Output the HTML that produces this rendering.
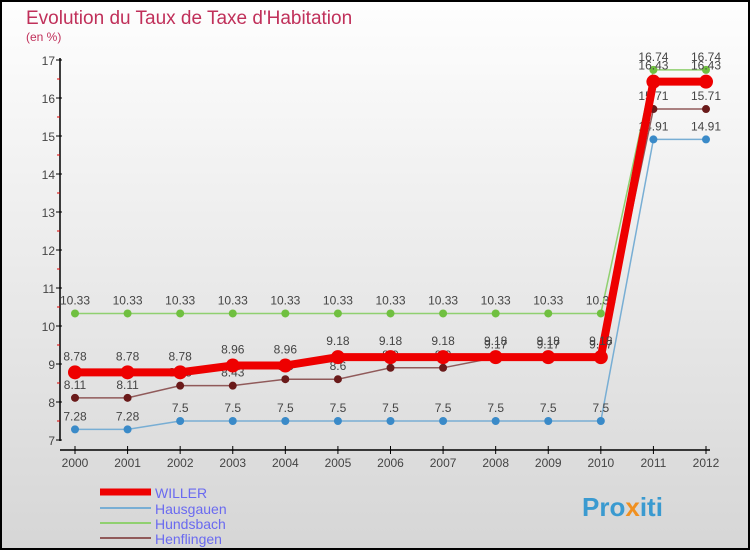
<!DOCTYPE html>
<html><head><meta charset="utf-8"><style>
body{margin:0}
#c{width:750px;height:550px;position:relative;font-family:"Liberation Sans",sans-serif}
</style></head><body>
<div id="c">
<svg id="s" width="750" height="550" xmlns="http://www.w3.org/2000/svg">
<defs><linearGradient id="bg" x1="0" y1="0" x2="0" y2="1"><stop offset="0" stop-color="#fefefe"/><stop offset="1" stop-color="#d6d6d6"/></linearGradient></defs>
<rect x="1" y="1" width="748" height="548" fill="url(#bg)" stroke="#000" stroke-width="2"/>
<text x="26" y="24" font-size="19" fill="#c0305a">Evolution du Taux de Taxe d'Habitation</text>
<text x="26" y="41" font-size="12" fill="#c0305a">(en %)</text>
<g id="axes"></g><g id="series"></g>
<g>
<line x1="100" y1="492" x2="151" y2="492" stroke="#e00" stroke-width="7"/>
<text x="155" y="498" font-size="14" fill="#6a6af0">WILLER</text>
<line x1="100" y1="508" x2="151" y2="508" stroke="#78aed4" stroke-width="2"/>
<text x="155" y="514" font-size="14" fill="#6a6af0">Hausgauen</text>
<line x1="100" y1="523" x2="151" y2="523" stroke="#90d070" stroke-width="2"/>
<text x="155" y="529" font-size="14" fill="#6a6af0">Hundsbach</text>
<line x1="100" y1="538" x2="151" y2="538" stroke="#905a5a" stroke-width="2"/>
<text x="155" y="544" font-size="14" fill="#6a6af0">Henflingen</text>
</g>
<text x="582" y="516" font-size="26" font-weight="bold" fill="#3a9ad0">Pro<tspan fill="#f09020">x</tspan>iti</text>
</svg></div>
<script>
const years=[2000,2001,2002,2003,2004,2005,2006,2007,2008,2009,2010,2011,2012];
const yTicks=[7,8,9,10,11,12,13,14,15,16,17];
const willer=[8.78,8.78,8.78,8.96,8.96,9.18,9.18,9.18,9.18,9.18,9.18,16.43,16.43];
const hausgauen=[7.28,7.28,7.5,7.5,7.5,7.5,7.5,7.5,7.5,7.5,7.5,14.91,14.91];
const hundsbach=[10.33,10.33,10.33,10.33,10.33,10.33,10.33,10.33,10.33,10.33,10.33,16.74,16.74];
const henflingen=[8.11,8.11,8.43,8.43,8.6,8.6,8.9,8.9,9.17,9.17,9.17,15.71,15.71];
const NS="http://www.w3.org/2000/svg";
const X=i=>75+i*(706-75)/12, Y=v=>440-(v-7)*38;
function mk(t,a,p){const e=document.createElementNS(NS,t);for(const k in a)e.setAttribute(k,a[k]);p.appendChild(e);return e;}
const ax=document.getElementById('axes');
let l=mk('line',{x1:60,y1:58,x2:60,y2:441,stroke:'#000','stroke-width':1.5},ax);


l=mk('line',{x1:60,y1:450,x2:710,y2:450,stroke:'#000','stroke-width':1.5},ax);


yTicks.forEach(v=>{mk('line',{x1:56,y1:Y(v),x2:62,y2:Y(v),stroke:'#000'},ax);
 if(v<17)mk('line',{x1:57,y1:Y(v+0.5),x2:60,y2:Y(v+0.5),stroke:'#d00'},ax);
 const t=mk('text',{x:55,y:Y(v)+5,'text-anchor':'end','font-size':12,fill:'#444'},ax);t.textContent=v;
 
 });
years.forEach((y,i)=>{mk('line',{x1:X(i),y1:446,x2:X(i),y2:454,stroke:'#000'},ax);
 const t=mk('text',{x:X(i),y:467,'text-anchor':'middle','font-size':12,fill:'#444'},ax);t.textContent=y;
 
 });
const sg=document.getElementById('series');
function draw(data,color,w,r,dot,name){const g=mk('g',{},sg);
 
 
 mk('polyline',{points:data.map((v,i)=>X(i)+','+Y(v)).join(' '),fill:'none',stroke:color,'stroke-width':w},g);
 data.forEach((v,i)=>{mk('circle',{cx:X(i),cy:Y(v),r:r,fill:dot},g);
  const t=mk('text',{x:X(i),y:Y(v)-r-5,'text-anchor':'middle','font-size':12,fill:'#444'},g);t.textContent=v;});}
draw(hundsbach,'#90d070',1.5,4,'#70c040','series-hundsbach');
draw(hausgauen,'#78aed4',1.5,4,'#3a8ac8','series-hausgauen');
draw(henflingen,'#905a5a',1.5,4,'#6a1a1a','series-henflingen');
draw(willer,'#e00',8,7,'#e00','series-willer');
</script>
</body></html>
